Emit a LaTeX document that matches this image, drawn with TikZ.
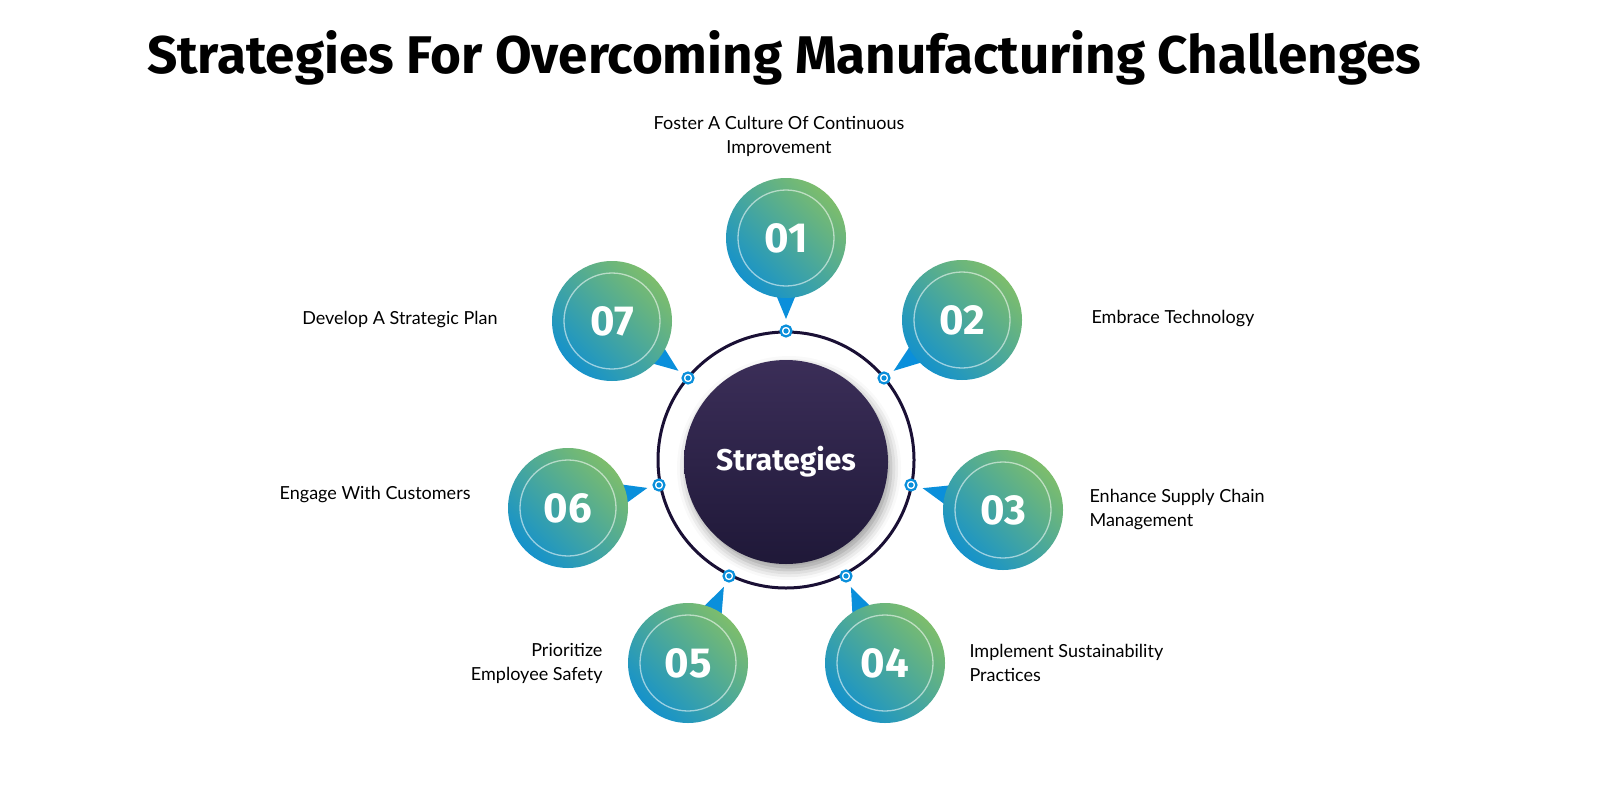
\documentclass[tikz,border=0pt]{standalone}
\usepackage{fontspec}
\setmainfont{Lato}
\newfontfamily\headfont{Fira Sans}
\usetikzlibrary{calc,shadows.blur}
\definecolor{gblue}{HTML}{1592CB}
\definecolor{ggreen}{HTML}{7DBD6C}
\definecolor{pblue}{HTML}{0A8FDB}
\definecolor{ringc}{HTML}{1A1035}
\definecolor{ctop}{HTML}{3B2E58}
\definecolor{cbot}{HTML}{1F1838}
\tikzset{
  badge/.style={circle,minimum size=120pt,inner sep=0pt,shading=axis,top color=ggreen,bottom color=gblue,shading angle=-45,
    font=\headfont\bfseries\fontsize{42}{42}\selectfont,text=white},
  dotc/.style={circle,draw=pblue,line width=2.2pt,fill=white,minimum size=11pt,inner sep=0pt},
  lbl/.style={font=\fontsize{18}{24}\selectfont,align=left,text=black},
}
\newcommand{\badgeat}[4]{% name, pos, dot pos, number
  \coordinate (#1d) at #3;
  \coordinate (#1c) at #2;
  \fill[pblue] ($(#1d)!12pt!(#1c)$) -- ($(#1c)!52pt!14:(#1d)$) -- ($(#1c)!52pt!-14:(#1d)$) -- cycle;
  \node[badge] (#1) at (#1c) {#4};
  \draw[white,opacity=0.55,line width=1.3pt] (#1c) circle (48pt);
  \node[dotc] (#1p) at (#1d) {};
  \fill[pblue] (#1d) circle (2.6pt);
}
\begin{document}
\begin{tikzpicture}[x=1pt,y=-1pt]
\node[font=\headfont\bfseries\fontsize{53}{56}\selectfont] (title) at (784,58) {Strategies For Overcoming Manufacturing Challenges};
\node[circle,draw=ringc,line width=3pt,minimum size=256pt,inner sep=0pt] (ring) at (786,460) {};
\node[circle,minimum size=204pt,inner sep=0pt,top color=ctop,bottom color=cbot,
  blur shadow={shadow xshift=3pt,shadow yshift=-6pt,shadow blur radius=10pt,shadow opacity=40},
  text=white,font=\headfont\bfseries\fontsize{30}{30}\selectfont] (center) at (786,462) {Strategies};
\badgeat{b1}{(786,238)}{(786,331)}{01}
\badgeat{b2}{(962,320)}{(884,378)}{02}
\badgeat{b3}{(1003,510)}{(911,485)}{03}
\badgeat{b4}{(885,663)}{(846,576)}{04}
\badgeat{b5}{(688,663)}{(729,576)}{05}
\badgeat{b6}{(568,508)}{(659,485)}{06}
\badgeat{b7}{(612,321)}{(688,378)}{07}
\node[lbl,align=center] (t1) at (779,136) {Foster A Culture Of Continuous\\Improvement};
\node[lbl,anchor=west] (t2) at (1088,319) {Embrace Technology};
\node[lbl,anchor=west] (t3) at (1086,510) {Enhance Supply Chain\\Management};
\node[lbl,anchor=west] (t4) at (966,663) {Implement Sustainability\\Practices};
\node[lbl,anchor=east,align=right] (t5) at (606,663) {Prioritize\\Employee Safety};
\node[lbl,anchor=east] (t6) at (474,495) {Engage With Customers};
\node[lbl,anchor=east] (t7) at (501,320) {Develop A Strategic Plan};
\pgfresetboundingbox
\useasboundingbox (0,0) rectangle (1600,800);
\end{tikzpicture}
\end{document}
